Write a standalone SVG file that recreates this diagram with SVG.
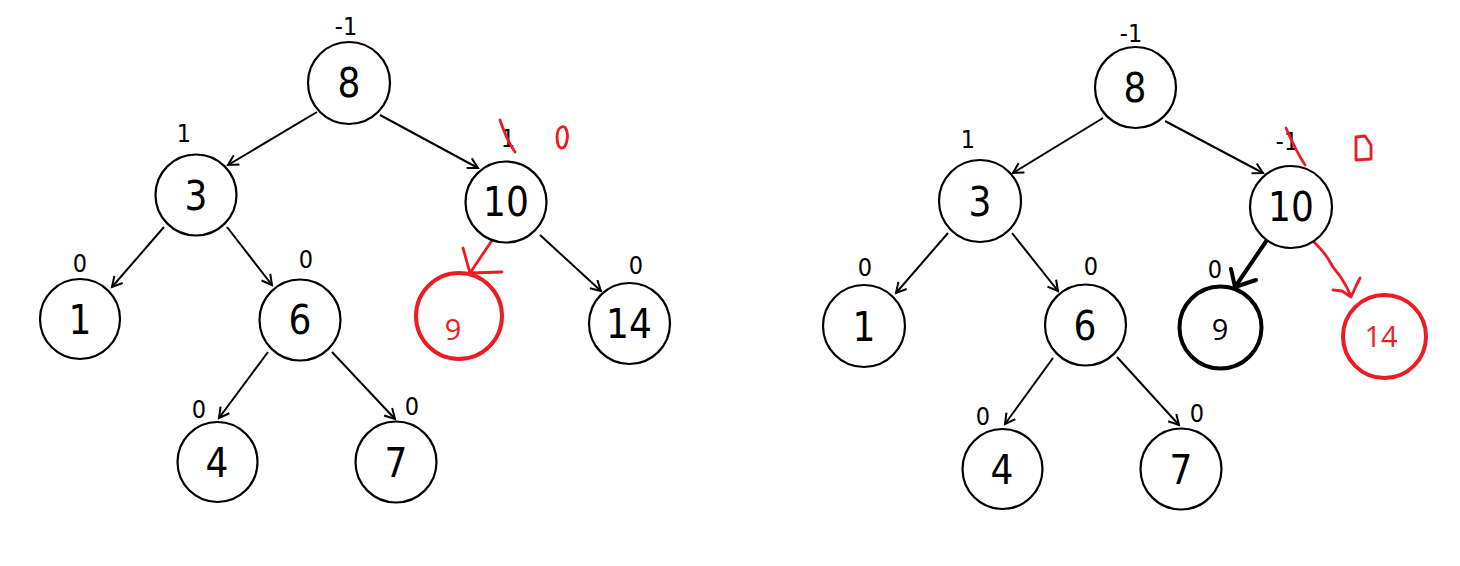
<svg xmlns="http://www.w3.org/2000/svg" width="1460" height="566" viewBox="0 0 1460 566">
<defs>
<marker id="ah" markerUnits="userSpaceOnUse" markerWidth="14" markerHeight="14" refX="11" refY="6" orient="auto" viewBox="0 0 14 12">
<path d="M1,0.5 L11,6 L1,11.5" fill="none" stroke="#000" stroke-width="2"/>
</marker>
<style>
.n{fill:#fff;stroke:#000;stroke-width:2.2}
.t{font-family:"DejaVu Sans Condensed","DejaVu Sans",sans-serif;font-size:40px;text-anchor:middle;fill:#000}
.l{font-family:"DejaVu Sans Condensed","DejaVu Sans",sans-serif;font-size:25px;text-anchor:middle;fill:#000}
.s{font-family:"Open Sans","Noto Sans",sans-serif;font-size:29px;text-anchor:middle}
.e{stroke:#000;stroke-width:2;fill:none;marker-end:url(#ah)}
.r{stroke:#ed1c24;stroke-width:2.8;fill:none;stroke-linecap:round;stroke-linejoin:round}
</style>
</defs>
<rect width="1460" height="566" fill="#fff"/>
<g id="connectors">
<line class="e" x1="317" y1="112" x2="228" y2="165"/>
<line class="e" x1="380" y1="115" x2="478" y2="168"/>
<line class="e" x1="164" y1="227" x2="112" y2="287"/>
<line class="e" x1="227" y1="227" x2="272" y2="285"/>
<line class="e" x1="268" y1="352" x2="219" y2="418"/>
<line class="e" x1="332" y1="352" x2="395" y2="419"/>
<line class="e" x1="540" y1="235" x2="601" y2="291"/>
<path class="r" d="M497,233 L470,273 M463,248 L470,273 L502,272"/>
<line class="e" x1="1103" y1="118" x2="1013" y2="173"/>
<line class="e" x1="1165" y1="121" x2="1263" y2="173"/>
<line class="e" x1="948" y1="233" x2="896" y2="293"/>
<line class="e" x1="1012" y1="233" x2="1058" y2="291"/>
<line class="e" x1="1053" y1="358" x2="1005" y2="424"/>
<line class="e" x1="1117" y1="357" x2="1179" y2="425"/>
<path d="M1267,240 L1235,287 M1231,269 L1235,287 L1256,280" fill="none" stroke="#000" stroke-width="4" stroke-linecap="round" stroke-linejoin="round"/>
<path class="r" d="M1313,241 C1320,248 1326,254 1330,262 C1333,268 1337,272 1340,276 C1344,282 1348,289 1351,296 M1333,290 L1342,291 L1351,297 L1356,286 L1360,278"/>
</g>
<g id="n8a"><circle class="n" cx="349" cy="83" r="41"/><text class="t" x="349" y="97">8</text><text class="l" x="346" y="35">-1</text></g>
<g id="n3a"><circle class="n" cx="196" cy="195" r="40.5"/><text class="t" x="196" y="210">3</text><text class="l" x="184" y="142">1</text></g>
<g id="n10a"><circle class="n" cx="506" cy="202" r="40.5"/><text class="t" x="506" y="216">10</text><text class="l" x="508" y="147">1</text>
<path class="r" d="M500,120 C504,132 508,142 515,152"/>
<path class="r" d="M560,128 C556,131 556,146 561,148 C567,149 569,135 566,129 C565,126 562,126 560,128 Z"/></g>
<g id="n1a"><circle class="n" cx="80" cy="319" r="40"/><text class="t" x="80" y="334">1</text><text class="l" x="80" y="272">0</text></g>
<g id="n6a"><circle class="n" cx="300" cy="320" r="40.5"/><text class="t" x="300" y="334">6</text><text class="l" x="306" y="268">0</text></g>
<g id="n9a"><circle cx="459" cy="316" r="43" fill="#fff" stroke="#ed1c24" stroke-width="4"/><text class="s" x="453" y="340" fill="#ed1c24">9</text></g>
<g id="n14a"><circle class="n" cx="629.5" cy="323.5" r="40.5"/><text class="t" x="629" y="338">14</text><text class="l" x="636" y="274">0</text></g>
<g id="n4a"><circle class="n" cx="217.5" cy="462" r="40"/><text class="t" x="217" y="477">4</text><text class="l" x="199" y="418">0</text></g>
<g id="n7a"><circle class="n" cx="396" cy="462" r="40.5"/><text class="t" x="396" y="477">7</text><text class="l" x="412" y="415">0</text></g>
<g id="n8b"><circle class="n" cx="1135.5" cy="87.5" r="40.5"/><text class="t" x="1135" y="102">8</text><text class="l" x="1131" y="42">-1</text></g>
<g id="n3b"><circle class="n" cx="980" cy="201" r="41"/><text class="t" x="980" y="216">3</text><text class="l" x="968" y="148">1</text></g>
<g id="n10b"><circle class="n" cx="1291" cy="207" r="41"/><text class="t" x="1291" y="221">10</text><text class="l" x="1287" y="150">-1</text>
<path class="r" d="M1286,128 C1292,142 1298,154 1305,165"/>
<path class="r" d="M1356,137 L1365,136 L1371,145 L1371,159 L1356,160 Z"/></g>
<g id="n1b"><circle class="n" cx="864" cy="326" r="41"/><text class="t" x="864" y="341">1</text><text class="l" x="865" y="276">0</text></g>
<g id="n6b"><circle class="n" cx="1085.5" cy="325" r="40.5"/><text class="t" x="1085" y="340">6</text><text class="l" x="1091" y="275">0</text></g>
<g id="n9b"><circle cx="1220.5" cy="327.5" r="41" fill="#fff" stroke="#000" stroke-width="4"/><text class="s" x="1220" y="340" fill="#000">9</text><text class="l" x="1215" y="278">0</text></g>
<g id="n14b"><circle cx="1384.5" cy="336.5" r="41.5" fill="#fff" stroke="#ed1c24" stroke-width="4"/><text class="s" x="1381" y="347" fill="#ed1c24">14</text></g>
<g id="n4b"><circle class="n" cx="1002.5" cy="469" r="40"/><text class="t" x="1002" y="484">4</text><text class="l" x="983" y="425">0</text></g>
<g id="n7b"><circle class="n" cx="1181" cy="469" r="40.5"/><text class="t" x="1181" y="484">7</text><text class="l" x="1197" y="422">0</text></g>
</svg>
